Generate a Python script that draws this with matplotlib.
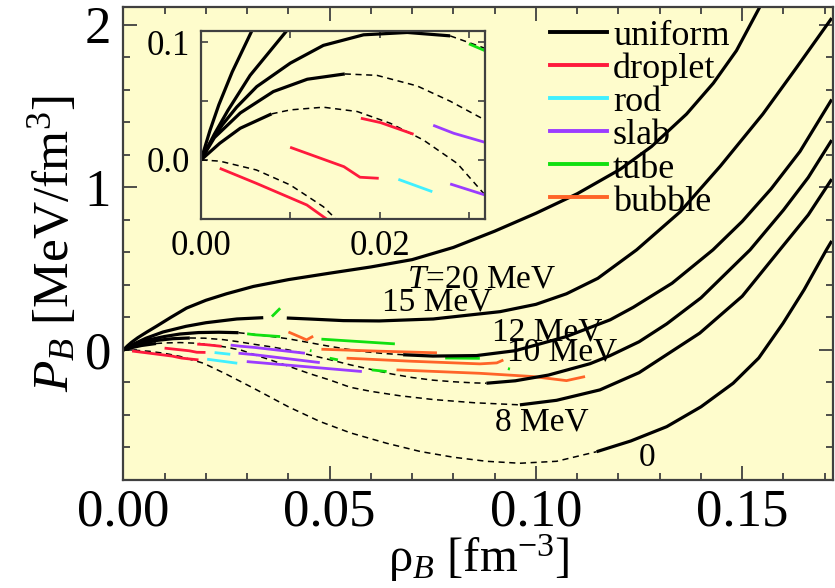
import matplotlib
matplotlib.use("Agg")
import matplotlib.pyplot as plt
from matplotlib.ticker import MultipleLocator, FixedLocator

plt.rcParams['font.family'] = ['Liberation Serif', 'DejaVu Serif']
plt.rcParams['mathtext.fontset'] = 'custom'
plt.rcParams['mathtext.rm'] = 'Liberation Serif'
plt.rcParams['mathtext.it'] = 'Liberation Serif:italic'

# ---------------- data (rho_B [fm^-3], P_B [MeV/fm^3]) ----------------
# uniform matter, solid (stable) parts; "d" = dashed (metastable) parts
t20_x = [0, 0.001, 0.002, 0.0035, 0.0057, 0.008, 0.0115, 0.0153, 0.020, 0.025, 0.0315, 0.040, 0.0501,
         0.060, 0.070, 0.080, 0.090, 0.100, 0.110, 0.1204, 0.128, 0.1365, 0.143, 0.1486, 0.1545]
t20_y = [0, 0.025, 0.047, 0.075, 0.110, 0.145, 0.200, 0.257, 0.305, 0.345, 0.390, 0.432, 0.472,
         0.510, 0.555, 0.630, 0.730, 0.840, 0.960, 1.110, 1.250, 1.450, 1.640, 1.840, 2.12]

t15a_x = [0, 0.0015, 0.003, 0.0055, 0.0096, 0.0152, 0.020, 0.0275, 0.0339]
t15a_y = [0, 0.022, 0.042, 0.072, 0.110, 0.145, 0.167, 0.190, 0.198]
t15b_x = [0.0396, 0.045, 0.0533, 0.062, 0.0751, 0.0913, 0.100, 0.1074, 0.115, 0.1244, 0.135, 0.1447,
          0.155, 0.163, 0.1717]
t15b_y = [0.196, 0.190, 0.180, 0.178, 0.190, 0.235, 0.280, 0.345, 0.440, 0.615, 0.850, 1.130,
          1.450, 1.730, 2.04]

t12a_x = [0, 0.001, 0.0024, 0.004, 0.00624, 0.0100, 0.0137, 0.0182, 0.0231, 0.0279]
t12a_y = [0, 0.014, 0.030, 0.045, 0.0624, 0.0824, 0.0975, 0.1065, 0.1085, 0.1056]
t12d_x = [0.0279, 0.0318, 0.036, 0.040, 0.045, 0.0493, 0.054, 0.058, 0.063, 0.0678]
t12d_y = [0.1056, 0.095, 0.082, 0.068, 0.045, 0.025, 0.005, -0.010, -0.022, -0.030]
t12b_x = [0.0678, 0.075, 0.0856, 0.095, 0.1074, 0.118, 0.1236, 0.133, 0.1429, 0.150, 0.157, 0.164, 0.1717]
t12b_y = [-0.030, -0.038, -0.035, -0.005, 0.082, 0.185, 0.262, 0.410, 0.615, 0.790, 0.990, 1.220, 1.54]

t10a_x = [0, 0.0015, 0.0044, 0.0081, 0.0119, 0.0161]
t10a_y = [0, 0.019, 0.040, 0.0582, 0.0687, 0.0732]
t10d_x = [0.0161, 0.0197, 0.0242, 0.0279, 0.0318, 0.036, 0.040, 0.045, 0.050, 0.055, 0.060, 0.065,
          0.070, 0.075, 0.080, 0.085, 0.088]
t10d_y = [0.0732, 0.072, 0.063, 0.050, 0.034, 0.018, 0.000, -0.030, -0.060, -0.092, -0.120, -0.148,
          -0.170, -0.186, -0.196, -0.203, -0.205]
t10b_x = [0.088, 0.095, 0.103, 0.1131, 0.118, 0.125, 0.1317, 0.140, 0.1519, 0.160, 0.166, 0.1717]
t10b_y = [-0.205, -0.190, -0.155, -0.085, -0.035, 0.050, 0.160, 0.320, 0.615, 0.860, 1.060, 1.29]

t8a_x = [0, 0.0021, 0.0044, 0.0079]
t8a_y = [0, 0.0142, 0.027, 0.0392]
t8d_x = [0.0079, 0.0100, 0.0137, 0.0175, 0.0212, 0.0249, 0.0287, 0.0318, 0.036, 0.040, 0.045, 0.050,
         0.055, 0.060, 0.067, 0.075, 0.085, 0.0961]
t8d_y = [0.0392, 0.0426, 0.0449, 0.0412, 0.0312, 0.017, -0.003, -0.0298, -0.065, -0.100, -0.145, -0.185,
         -0.230, -0.255, -0.282, -0.305, -0.325, -0.338]
t8b_x = [0.0961, 0.105, 0.1155, 0.125, 0.1397, 0.150, 0.1591, 0.166, 0.1717]
t8b_y = [-0.338, -0.310, -0.246, -0.140, 0.103, 0.330, 0.615, 0.830, 1.05]

t0d_x = [0, 0.0021, 0.0062, 0.0100, 0.0137, 0.0194, 0.025, 0.0315, 0.040, 0.0476, 0.055, 0.0638,
         0.072, 0.080, 0.088, 0.0961, 0.105, 0.1147]
t0d_y = [0, -0.001, -0.0085, -0.0213, -0.0398, -0.082, -0.150, -0.235, -0.350, -0.440, -0.510, -0.574,
         -0.625, -0.660, -0.685, -0.697, -0.685, -0.626]
t0b_x = [0.1147, 0.123, 0.1317, 0.140, 0.1478, 0.154, 0.1599, 0.165, 0.1704, 0.1717]
t0b_y = [-0.626, -0.560, -0.472, -0.350, -0.205, -0.050, 0.164, 0.370, 0.615, 0.670]

# pasta phases
droplet_segs = [
    ([0.0021, 0.0062, 0.01185, 0.0141, 0.0182], [-0.0071, -0.0199, -0.0383, -0.0505, -0.0615]),
    ([0.00998, 0.0160, 0.0178, 0.0199], [0.0108, -0.0057, -0.0147, -0.0156]),
    ([0.0179, 0.0201, 0.0238], [0.0355, 0.0318, 0.0219]),
]
rod_segs = [
    ([0.0221, 0.0259], [-0.0165, -0.027]),
    ([0.0203, 0.0276], [-0.0574, -0.082]),
]
slab_segs = [
    ([0.0260, 0.0283, 0.0318, 0.044], [0.0295, 0.0227, 0.015, -0.0205]),
    ([0.0279, 0.0318, 0.0476], [-0.0204, -0.0298, -0.078]),
    ([0.0299, 0.0450, 0.0578], [-0.072, -0.105, -0.133]),
]
tube_segs = [
    ([0.0300, 0.0318, 0.038], [0.0988, 0.093, 0.082]),
    ([0.0360, 0.0380], [0.205, 0.256]),
    ([0.0452, 0.0456], [-0.004, -0.006]),
    ([0.0480, 0.0658], [0.066, 0.037]),
    ([0.0500, 0.0520], [-0.051, -0.0615]),
    ([0.0602, 0.0638], [-0.123, -0.133]),
    ([0.0780, 0.0864], [-0.050, -0.052]),
    ([0.0932, 0.0937], [-0.115, -0.118]),
]
bubble_segs = [
    ([0.0400, 0.0432, 0.0444, 0.0460], [0.110, 0.075, 0.0615, 0.084]),
    ([0.0480, 0.0620, 0.0760], [0.004, -0.008, -0.018]),
    ([0.0541, 0.0700, 0.0864, 0.0905, 0.0921], [-0.051, -0.070, -0.086, -0.080, -0.062]),
    ([0.0662, 0.0864, 0.0993, 0.1074, 0.1119], [-0.123, -0.144, -0.164, -0.189, -0.164]),
]

legend_labels = ['uniform', 'droplet', 'rod', 'slab', 'tube', 'bubble']
legend_colors = ['black', '#ff1a3c', '#40f0ff', '#9b3cff', '#10e010', '#ff6428']

curve_labels = ['$T$=20 MeV', '15 MeV', '12 MeV', '10 MeV', '8 MeV', '0']
curve_label_x = [0.0869, 0.0760, 0.1028, 0.1063, 0.1015, 0.1270]
curve_label_y = [0.437, 0.295, 0.111, -0.012, -0.443, -0.665]

solid = [(t20_x, t20_y), (t15a_x, t15a_y), (t15b_x, t15b_y), (t12a_x, t12a_y), (t12b_x, t12b_y),
         (t10a_x, t10a_y), (t10b_x, t10b_y), (t8a_x, t8a_y), (t8b_x, t8b_y), (t0b_x, t0b_y)]
dashed = [(t12d_x, t12d_y), (t10d_x, t10d_y), (t8d_x, t8d_y), (t0d_x, t0d_y)]
pasta = [(droplet_segs, legend_colors[1]), (rod_segs, legend_colors[2]), (slab_segs, legend_colors[3]),
         (tube_segs, legend_colors[4]), (bubble_segs, legend_colors[5])]

BG = '#fefccc'
W, H = 835, 588
fig = plt.figure(figsize=(W / 100, H / 100), dpi=100)
ax = fig.add_axes([123.4 / W, 1 - 480 / H, (833 - 123.4) / W, (480 - 6.7) / H])
ins = fig.add_axes([201 / W, 1 - 219.3 / H, (485 - 201) / W, (219.3 - 30.7) / H])


def draw(a, lw_s, lw_d, lw_p):
    for x, y in dashed:
        a.plot(x, y, color='black', lw=lw_d, ls=(0, (4, 3)))
    for segs, c in pasta:
        for x, y in segs:
            a.plot(x, y, color=c, lw=lw_p, solid_capstyle='butt')
    for x, y in solid:
        a.plot(x, y, color='black', lw=lw_s, solid_capstyle='butt', solid_joinstyle='round')


for a in (ax, ins):
    a.set_facecolor(BG)
    for s in a.spines.values():
        s.set_linewidth(1.6)
        s.set_color('#404040')

draw(ax, 2.3, 1.1, 2.0)
ax.set_xlim(0, 0.172)
ax.set_ylim(-0.8, 2.11)
ax.xaxis.set_minor_locator(MultipleLocator(0.01))
ax.yaxis.set_minor_locator(MultipleLocator(0.2))
ax.set_xticks([0, 0.05, 0.10, 0.15])
ax.set_xticklabels(['0.00', '0.05', '0.10', '0.15'])
ax.set_yticks([0, 1, 2])
ax.set_yticklabels(['0', '1', '2'])
ax.tick_params(which='both', direction='in', top=True, right=True, color='#404040', width=1.3,
               labelsize=38, pad=9)
ax.tick_params(axis='x', which='both', pad=6)
ax.tick_params(which='major', length=10)
ax.tick_params(which='minor', length=5)
ax.set_xlabel('ρ$_B$ [fm$^{-3}$]', fontsize=35, labelpad=-3)
ax.set_ylabel('$P_B$ [MeV/fm$^3$]', fontsize=37, labelpad=4)

for t, x, y in zip(curve_labels, curve_label_x, curve_label_y):
    ax.text(x, y, t, fontsize=24, ha='center', va='center')

# legend drawn in figure pixels
for i, (lab, c) in enumerate(zip(legend_labels, legend_colors)):
    yl = 31.7 + 33.1 * i
    fig.add_artist(plt.Line2D([550 / W, 607 / W], [1 - yl / H, 1 - yl / H], color=c, lw=2.8))
    fig.text(613 / W, 1 - (yl + 13.5) / H, lab, fontsize=26, ha='left', va='baseline')

draw(ins, 2.3, 1.1, 2.0)
ins.set_xlim(0, 0.0318)
ins.set_ylim(-0.0505, 0.110)
ins.xaxis.set_major_locator(FixedLocator([0, 0.02]))
ins.xaxis.set_minor_locator(FixedLocator([0.01, 0.03]))
ins.yaxis.set_major_locator(FixedLocator([0, 0.1]))
ins.yaxis.set_minor_locator(FixedLocator([0.05]))
ins.set_xticklabels(['0.00', '0.02'])
ins.set_yticklabels(['0.0', '0.1'])
ins.tick_params(which='both', direction='in', top=True, right=True, color='#404040', width=1.2,
                length=5, labelsize=25, pad=8)

fig.savefig('out.png', dpi=100, facecolor='white')
